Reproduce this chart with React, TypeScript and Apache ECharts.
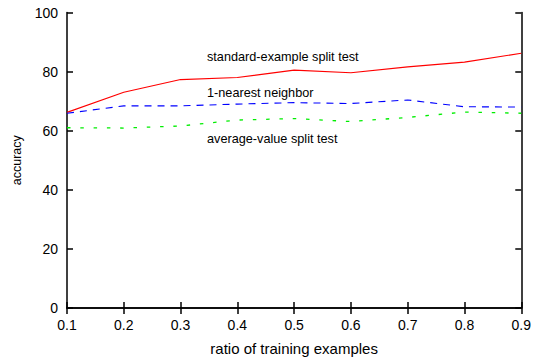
import React, { useEffect, useRef } from "react";
import * as echarts from "echarts";

const ratios = [0.1, 0.2, 0.3, 0.4, 0.5, 0.6, 0.7, 0.8, 0.9];
const standardExample = [66.2, 73.0, 77.3, 78.0, 80.5, 79.6, 81.6, 83.2, 86.2];
const nearestNeighbor = [65.9, 68.4, 68.4, 69.0, 69.5, 69.2, 70.4, 68.1, 68.0];
const averageValue = [61.0, 60.9, 61.6, 63.6, 64.1, 63.1, 64.5, 66.3, 65.9];
const seriesNames = ["standard-example split test", "1-nearest neighbor", "average-value split test"];

const FONT = "'Liberation Sans', Arial, Helvetica, sans-serif";

export default function App() {
  const ref = useRef<HTMLDivElement>(null);
  useEffect(() => {
    if (!ref.current) return;
    const chart = echarts.init(ref.current, undefined, { renderer: "svg" });
    const pair = (arr: number[]) => ratios.map((r, i) => [r, arr[i]]);
    const axisLine = { show: true, lineStyle: { color: "#000", width: 1.5 } };
    const tick = { show: true, inside: true, length: 6, lineStyle: { color: "#000", width: 1.5 } };
    chart.setOption({
      animation: false,
      backgroundColor: "#fff",
      textStyle: { fontFamily: FONT },
      grid: { left: 67, right: 10.5, top: 12.5, bottom: 47.5, containLabel: false },
      xAxis: [
        {
          type: "value", min: 0.1, max: 0.9, interval: 0.1, position: "bottom",
          name: "ratio of training examples", nameLocation: "middle", nameGap: 33,
          nameTextStyle: { fontSize: 15, color: "#000", fontFamily: FONT },
          axisLine, axisTick: tick, splitLine: { show: false },
          axisLabel: { fontSize: 14, color: "#000", margin: 10, fontFamily: FONT,
            formatter: (v: number) => v.toFixed(1) },
        },
        {
          type: "value", min: 0.1, max: 0.9, interval: 0.1, position: "top",
          axisLine, axisTick: tick, splitLine: { show: false }, axisLabel: { show: false },
        },
      ],
      yAxis: [
        {
          type: "value", min: 0, max: 100, interval: 20, position: "left",
          name: "accuracy", nameLocation: "middle", nameGap: 41,
          nameTextStyle: { fontSize: 12.5, color: "#000", fontFamily: FONT },
          axisLine, axisTick: tick, splitLine: { show: false },
          axisLabel: { fontSize: 14, color: "#000", margin: 9, fontFamily: FONT },
        },
        {
          type: "value", min: 0, max: 100, interval: 20, position: "right",
          axisLine, axisTick: tick, splitLine: { show: false }, axisLabel: { show: false },
        },
      ],
      series: [
        {
          name: seriesNames[0], type: "line", data: pair(standardExample), showSymbol: false,
          lineStyle: { color: "#ff0000", width: 1.1 },
        },
        {
          name: seriesNames[1], type: "line", data: pair(nearestNeighbor), showSymbol: false,
          lineStyle: { color: "#0000ff", width: 1.1, type: [7, 6] },
        },
        {
          name: seriesNames[2], type: "line", data: pair(averageValue), showSymbol: false,
          lineStyle: { color: "#00ee00", width: 1.3, type: [3.5, 9.8] },
        },
      ],
      graphic: [
        { type: "text", left: 207, top: 50, style: { text: seriesNames[0], fontSize: 12.7, fill: "#000", fontFamily: FONT } },
        { type: "text", left: 207, top: 86, style: { text: seriesNames[1], fontSize: 12.7, fill: "#000", fontFamily: FONT } },
        { type: "text", left: 207, top: 132, style: { text: seriesNames[2], fontSize: 12.7, fill: "#000", fontFamily: FONT } },
      ],
    });
    return () => chart.dispose();
  }, []);
  return <div ref={ref} style={{ width: 534, height: 361, position: "absolute", left: 0, top: 0 }} />;
}
